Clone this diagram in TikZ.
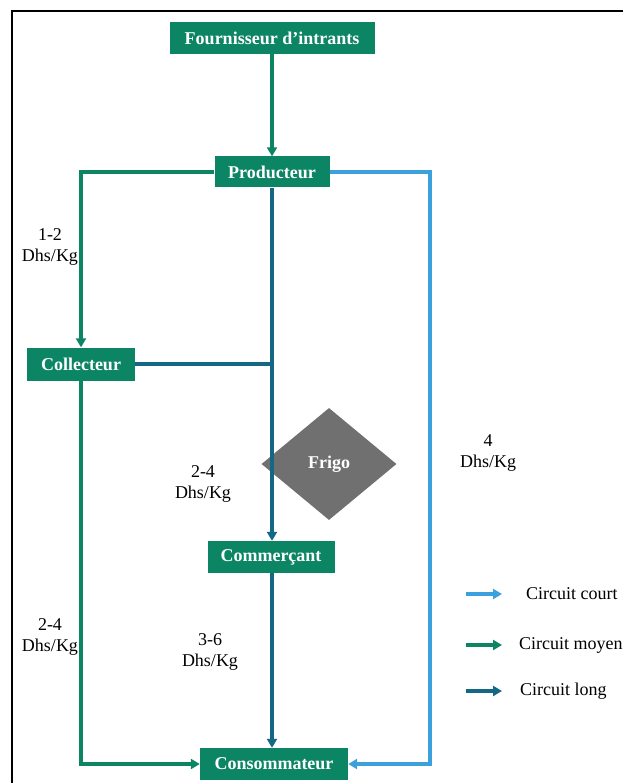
\documentclass[tikz,border=0pt]{standalone}
\usepackage{fontspec}
\setmainfont{Liberation Serif}
\usetikzlibrary{shapes.geometric,arrows.meta}
\definecolor{cgreen}{RGB}{12,133,100}
\definecolor{clong}{RGB}{20,104,132}
\definecolor{cshort}{RGB}{60,160,220}
\definecolor{cgray}{RGB}{112,112,112}
\tikzset{
  box/.style={fill=cgreen,text=white,font=\bfseries\fontsize{18}{20}\selectfont,inner sep=0pt},
  lab/.style={align=center,font=\fontsize{18}{21.5}\selectfont,inner sep=0pt},
  leg/.style={anchor=west,font=\fontsize{18}{20}\selectfont,inner sep=0pt},
  tip/.style={-{Triangle[width=10pt,length=9pt]}},
  gline/.style={draw=cgreen,line width=3.2pt},
  lline/.style={draw=clong,line width=3.2pt},
  sline/.style={draw=cshort,line width=3.2pt},
}
\begin{document}
\begin{tikzpicture}[x=1pt,y=-1pt]
\useasboundingbox (0,0) rectangle (622,783);
\draw[line width=1.8pt] (12,790) -- (12,11) -- (630,11);
% nodes
\node[box,minimum width=205pt,minimum height=32pt] (four) at (272,38) {Fournisseur d’intrants};
\node[box,minimum width=115pt,minimum height=31pt] (prod) at (272,172) {Producteur};
\node[box,minimum width=108pt,minimum height=33pt] (coll) at (81,364) {Collecteur};
\node[diamond,fill=cgray,text=white,font=\bfseries\fontsize{18}{20}\selectfont,minimum width=135pt,minimum height=112pt,inner sep=0pt] (frigo) at (329,464) {Frigo};
\node[box,minimum width=127pt,minimum height=32pt] (comm) at (271,557) {Commerçant};
\node[box,minimum width=148pt,minimum height=32pt] (cons) at (274,764) {Consommateur};
\coordinate (br) at (430,172);
\coordinate (jn) at (272,364);
% connectors
\draw[gline,tip] (four) -- (prod);
\draw[gline,tip] (prod.west) -| (coll.north);
\draw[lline,tip] (prod.south) -- (prod.south |- comm.north);
\draw[lline] (coll.east) -- (jn);
\draw[lline,tip] (comm.south -| prod.south) -- (prod.south |- cons.north);
\draw[gline,tip] (coll.south) |- (cons.west);
\draw[sline,tip] (prod.east) -- (br) |- (cons.east);
% labels
\node[lab] (l1) at (50,247) {1-2\\Dhs/Kg};
\node[lab] (l2) at (203,484) {2-4\\Dhs/Kg};
\node[lab] (l3) at (488,453) {4\\Dhs/Kg};
\node[lab] (l4) at (50,637) {2-4\\Dhs/Kg};
\node[lab] (l5) at (210,652) {3-6\\Dhs/Kg};
% legend
\coordinate (a1) at (466,594); \coordinate (b1) at (502,594);
\coordinate (a2) at (466,645); \coordinate (b2) at (502,645);
\coordinate (a3) at (466,691); \coordinate (b3) at (502,691);
\draw[sline,tip] (a1) -- (b1);
\draw[gline,tip] (a2) -- (b2);
\draw[lline,tip] (a3) -- (b3);
\node[leg] (t1) at (526,594) {Circuit court};
\node[leg] (t2) at (519,645) {Circuit moyen};
\node[leg] (t3) at (520,691) {Circuit long};
\end{tikzpicture}
\end{document}
